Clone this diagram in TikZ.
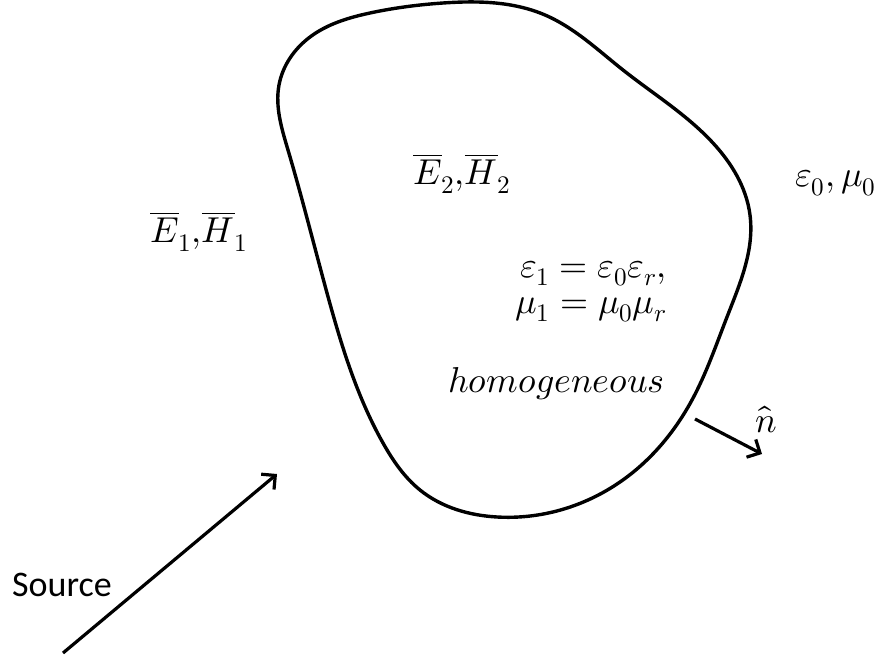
\documentclass[tikz,border=0pt]{standalone}
\usepackage{fontspec}
\usepackage{unicode-math}
\setmathfont{Latin Modern Math}
\newfontfamily\srcfont{Carlito}
\usetikzlibrary{arrows.meta,hobby}
\tikzset{
  outline/.style={line width=3.4pt, line join=round},
  vecarrow/.style={line width=3.2pt, -{Straight Barb[length=10pt,width=20pt,line width=3.2pt]}},
  mathlabel/.style={inner sep=0pt, font=\fontsize{36}{36}\selectfont},
  srclabel/.style={inner sep=0pt, font=\fontsize{36}{42}\selectfont\srcfont}
}
\begin{document}
\begin{tikzpicture}[x=1pt,y=-1pt]
\useasboundingbox (0,0) rectangle (883,660);
% blob boundary
\draw[outline, use Hobby shortcut, closed=true]
 (443,3) .. (545,15) .. (623,70) .. (713,143) .. (750,215) .. (727,317)
 .. (692,400) .. (620,482) .. (497,517) .. (420,490) .. (383,443)
 .. (327,293) .. (288,150) .. (279,85) .. (310,37) .. (370,13);
% labels
\node[mathlabel, anchor=base west] (e1h1) at (150,243) {$\overline{E}_1{,}\overline{H}_1$};
\node[mathlabel, anchor=base west] (e2h2) at (413,185) {$\overline{E}_2{,}\overline{H}_2$};
\node[mathlabel, anchor=base west] (e0m0) at (795,187) {$\varepsilon_0,\mu_0$};
\node[mathlabel, align=right, anchor=base east] (eqs) at (667,313)
  {$\varepsilon_1=\varepsilon_0\varepsilon_r,$\\$\mu_1=\mu_0\mu_r$};
\node[mathlabel, anchor=base east] (homog) at (665,392) {$homogeneous$};
\node[mathlabel, anchor=base] (nhat) at (766,432) {$\hat{n}$};
\node[srclabel, anchor=base west] (src) at (12,596) {Source};
% arrows
\coordinate (srcA) at (63,653);
\coordinate (srcB) at (277,474);
\coordinate (nA) at (695,419);
\coordinate (nB) at (762,454);
\draw[vecarrow] (srcA) -- (srcB);
\draw[vecarrow] (nA) -- (nB);
\end{tikzpicture}
\end{document}
